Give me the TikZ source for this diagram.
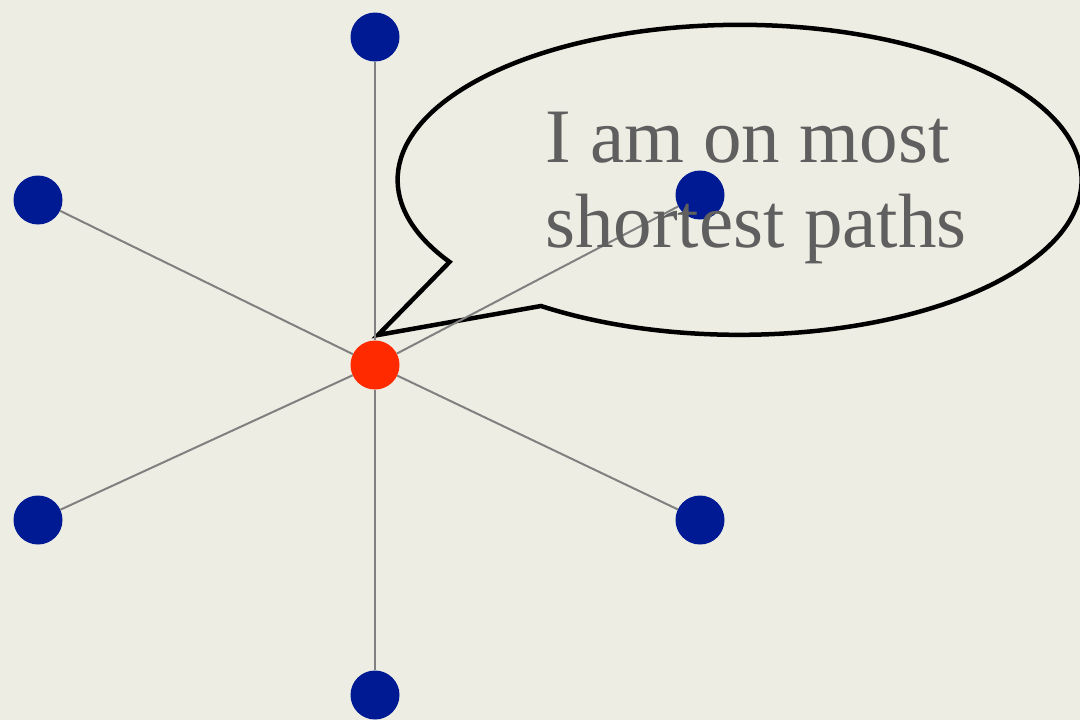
\documentclass[tikz,border=0pt]{standalone}
\usepackage{fontspec}
\setmainfont{Liberation Serif}
\definecolor{bg}{HTML}{EEEDE3}
\definecolor{nodeblue}{HTML}{001A94}
\definecolor{nodered}{HTML}{FF2A00}
\definecolor{edgegray}{HTML}{808080}
\definecolor{textgray}{HTML}{5F5F5F}
\begin{document}
\begin{tikzpicture}[x=1pt,y=-1pt,
  vtx/.style={circle,inner sep=0pt,minimum size=49pt,fill=nodeblue,draw=none},
  hub/.style={circle,inner sep=0pt,minimum size=49pt,fill=nodered,draw=none},
  edge/.style={draw=edgegray,line width=2pt},
  bubble/.style={draw=black,line width=4.5pt,line join=miter},
  say/.style={text=textgray,anchor=base west,inner sep=0pt,font=\fontsize{77}{84}\selectfont}]
\fill[bg] (0,0) rectangle (1080,720);
\useasboundingbox (0,0) rectangle (1080,720);
% speech bubble
\coordinate (tip) at (378,335);
\draw[bubble] (541,306) arc[start angle=125.5,end angle=-212,x radius=342,y radius=155] -- (tip) -- cycle;
% graph
\node[hub] (c) at (375,365) {};
\node[vtx] (n1) at (375,37) {};
\node[vtx] (n2) at (38,200) {};
\node[vtx] (n3) at (700,195) {};
\node[vtx] (n4) at (38,520) {};
\node[vtx] (n5) at (700,520) {};
\node[vtx] (n6) at (375,695) {};
\foreach \n in {n1,n2,n3,n4,n5,n6}{\path[edge] (c) -- (\n);}
% text
\node[say] (l1) at (545,162) {I am on most};
\node[say] (l2) at (545,247) {shortest paths};
\end{tikzpicture}
\end{document}
